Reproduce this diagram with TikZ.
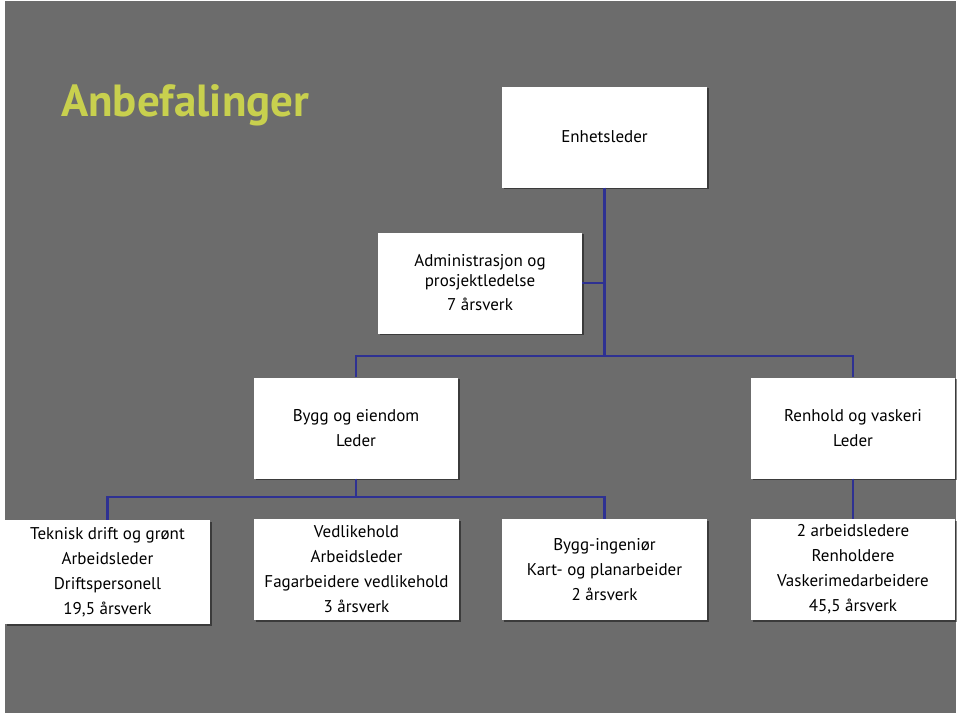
\documentclass[tikz,border=0pt]{standalone}
\usepackage{fontspec}
\setmainfont{PT Sans}
\usetikzlibrary{shadows}
\definecolor{bggray}{RGB}{108,108,108}
\definecolor{navy}{RGB}{46,49,146}
\definecolor{titlegreen}{RGB}{200,208,78}
\tikzset{
  box/.style={draw=none, fill=white, minimum width=205pt, minimum height=101pt,
    inner sep=0pt, align=center, font=\fontsize{17}{25}\selectfont,
    drop shadow={shadow xshift=1.5pt, shadow yshift=-1.5pt, opacity=0.45, fill=black}},
  conn/.style={draw=navy, line width=2.6pt}
}
\begin{document}
\begin{tikzpicture}[x=1pt,y=-1pt]
\useasboundingbox (0,0) rectangle (960,715);
\fill[white] (0,0) rectangle (960,715);
\fill[bggray] (5,1) rectangle (956,713);
\node[anchor=base west, inner sep=0pt, text=titlegreen, font=\fontsize{45}{48}\selectfont\bfseries] (title) at (61,116) {Anbefalinger};

\node[box] (E) at (604.5,137) {Enhetsleder};
\node[box, minimum width=204pt, font=\fontsize{17}{20}\selectfont] (A) at (480,283) {Administrasjon og\\prosjektledelse\\[4pt]7 årsverk};
\node[box, minimum width=204pt] (B) at (356,428) {Bygg og eiendom\\Leder};
\node[box, minimum width=204pt] (R) at (853,428) {Renhold og vaskeri\\Leder};
\node[box, minimum height=104pt] (T) at (107.5,572) {Teknisk drift og grønt\\Arbeidsleder\\Driftspersonell\\19,5 årsverk};
\node[box] (V) at (356.5,569.5) {Vedlikehold\\Arbeidsleder\\Fagarbeidere vedlikehold\\3 årsverk};
\node[box] (G) at (604.5,569.5) {Bygg-ingeniør\\Kart- og planarbeider\\2 årsverk};
\node[box, minimum width=204pt] (W) at (853,569.5) {2 arbeidsledere\\Renholdere\\Vaskerimedarbeidere\\45,5 årsverk};

\coordinate (j1) at (604.5,356);
\coordinate (j2) at (604.5,497);
\draw[conn] (E.south) -- (j1);
\draw[conn] (A.east) -- (A.east -| E.south);
\draw[conn] (B.north) -- (B.north |- j1) -- (R.north |- j1) -- (R.north);
\draw[conn] (R.south) -- (W.north);
\draw[conn] (T.north) -- (T.north |- j2) -- (G.north |- j2) -- (G.north);
\draw[conn] (B.south) -- (B.south |- j2);
\end{tikzpicture}
\end{document}
